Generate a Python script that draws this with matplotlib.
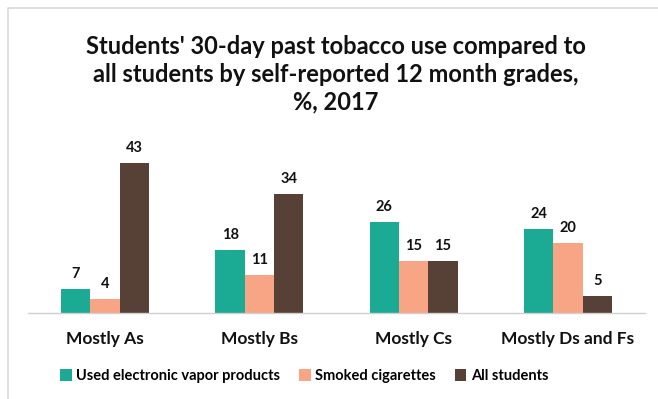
import matplotlib.pyplot as plt
import numpy as np
from matplotlib.lines import Line2D

categories = ["Mostly As", "Mostly Bs", "Mostly Cs", "Mostly Ds and Fs"]
vapor = [7, 18, 26, 24]
cigarettes = [4, 11, 15, 20]
all_students = [43, 34, 15, 5]
series_names = ["Used electronic vapor products", "Smoked cigarettes", "All students"]
colors = ["#1BAA94", "#F8A586", "#574136"]

plt.rcParams["font.family"] = ["Lato", "DejaVu Sans"]

fig = plt.figure(figsize=(6.58, 3.99), dpi=100)
W, H = 658, 399

# plot area in pixels: left 28, right 645, baseline 313, top 138
ax = fig.add_axes([28 / W, (H - 313) / H, (645 - 28) / W, (313 - 138) / H])

x = np.arange(len(categories))
w = 0.19
for i, (vals, name) in enumerate(zip([vapor, cigarettes, all_students], series_names)):
    pos = x + (i - 1) * w
    bars = ax.bar(pos, vals, w, color=colors[i], label=name)
    for b, v in zip(bars, vals):
        ax.text(b.get_x() + b.get_width() / 2, v + 2.2, str(v), ha="center", va="bottom",
                fontsize=10.5, fontweight="bold", color="#111111")

ax.set_xlim(-0.5, len(categories) - 0.5)
ax.set_ylim(0, 50)
ax.set_yticks([])
ax.set_xticks(x)
ax.set_xticklabels(categories, fontsize=12.5, fontweight="bold", color="#111111")
ax.tick_params(axis="x", length=0, pad=13)
for s in ["top", "right", "left"]:
    ax.spines[s].set_visible(False)
ax.spines["bottom"].set_color("#D0D0D0")
ax.spines["bottom"].set_linewidth(1)

fig.text(0.51, 1 - 74 / H, "Students' 30-day past tobacco use compared to\nall students by self-reported 12 month grades,\n%, 2017",
         ha="center", va="center", fontsize=17, fontweight="bold", color="#111111", linespacing=1.25)

fig.legend(loc="center", bbox_to_anchor=(0.462, 1 - 376 / H), ncol=3, frameon=False,
           handlelength=0.8, handleheight=0.8, handletextpad=0.3, columnspacing=1.3,
           prop={"weight": "bold", "size": 10.5})

# chart frame: only top and left edges are visible in the crop
fig.lines.append(Line2D([8 / W, 8 / W, 1], [0, 1 - 7.5 / H, 1 - 7.5 / H],
                        transform=fig.transFigure, color="#D9D9D9", linewidth=1.2))

fig.savefig("out.png", dpi=100)
